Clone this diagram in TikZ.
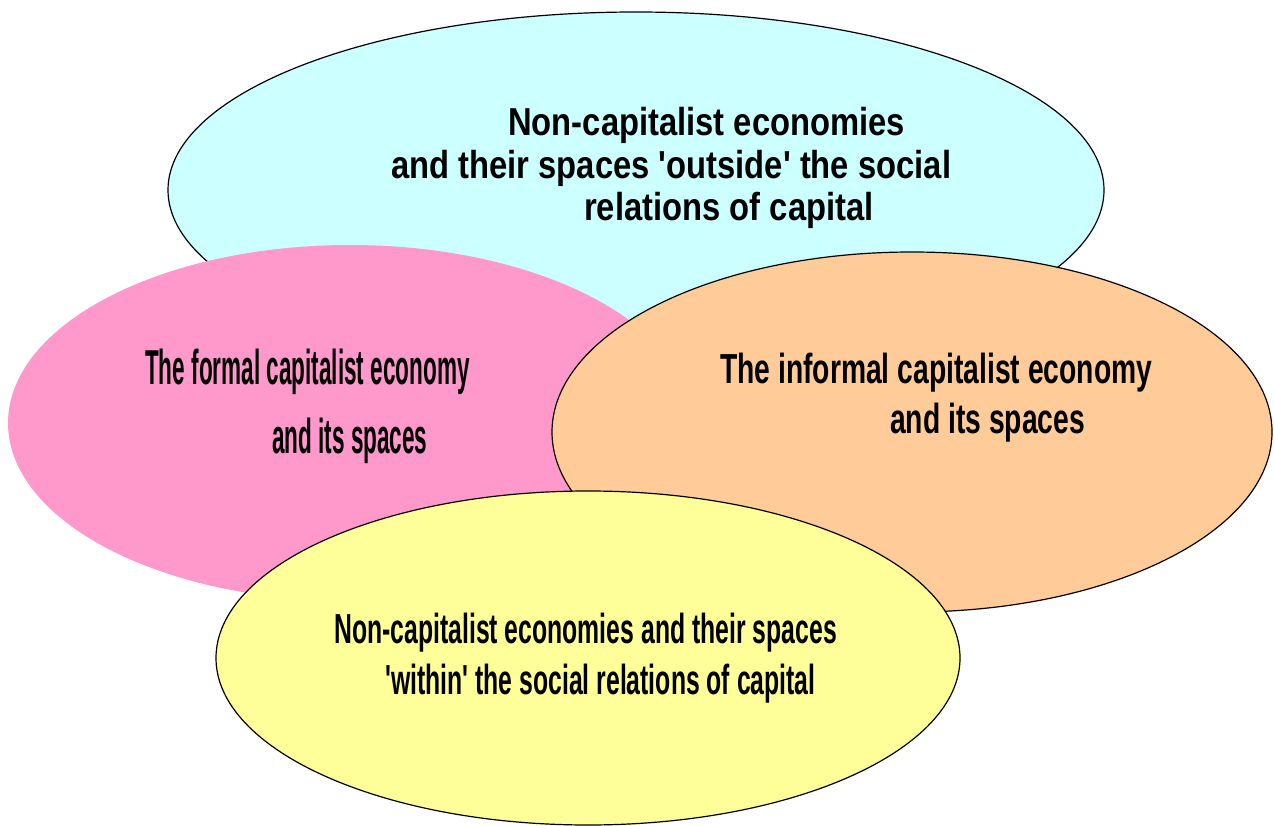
\documentclass[tikz,border=0pt]{standalone}
\usepackage{fontspec}
\usetikzlibrary{shapes.geometric}
\newfontfamily\outsidefont[FakeStretch=0.84]{Liberation Sans}
\newfontfamily\formalfont[FakeStretch=0.46]{Liberation Sans}
\newfontfamily\informalfont[FakeStretch=0.673]{Liberation Sans}
\newfontfamily\withinfont[FakeStretch=0.59]{Liberation Sans}
\definecolor{outsidecol}{HTML}{CCFFFF}
\definecolor{formalcol}{HTML}{FF99CC}
\definecolor{informalcol}{HTML}{FFCC99}
\definecolor{withincol}{HTML}{FFFF99}
\begin{document}
\begin{tikzpicture}[x=1pt,y=-1pt,
      blob/.style={ellipse,draw,line width=1.2pt,inner sep=0pt},
      lbl/.style={inner sep=0pt,align=left,anchor=base west}]
      \useasboundingbox (0,0) rectangle (1274,826);
      \node[blob,fill=outsidecol,minimum width=936pt,minimum height=356pt]  (outside)  at (636,190) {};
      \node[blob,draw=none,fill=formalcol,minimum width=684pt,minimum height=356pt] (formal) at (350,423) {};
      \node[blob,fill=informalcol,minimum width=720pt,minimum height=360pt] (informal) at (912,432) {};
      \node[blob,fill=withincol,minimum width=744pt,minimum height=334pt]  (within)   at (588,658) {};
      % labels (anchored at the baseline of the last line)
      \node[lbl,font=\outsidefont\bfseries\fontsize{39}{42.5}\selectfont] (outsidetxt) at (391,221)
        {\hspace*{117pt}Non-capitalist economies\\and their spaces 'outside' the social\\\hspace*{193pt}relations of capital};
      \node[lbl,font=\formalfont\bfseries\fontsize{49}{69}\selectfont] (formaltxt) at (145,453)
        {The formal capitalist economy\\\hspace*{127pt}and its spaces};
      \node[lbl,font=\informalfont\bfseries\fontsize{42}{50}\selectfont] (informaltxt) at (720,433)
        {The informal capitalist economy\\\hspace*{170pt}and its spaces};
      \node[lbl,font=\withinfont\bfseries\fontsize{42}{51}\selectfont] (withintxt) at (334,694)
        {Non-capitalist economies and their spaces\\\hspace*{51pt}'within' the social relations of capital};
    \end{tikzpicture}
\end{document}
